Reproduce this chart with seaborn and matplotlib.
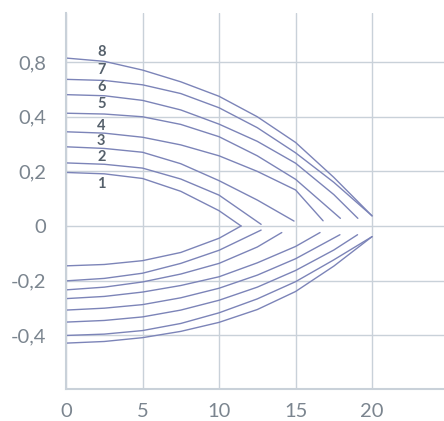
import matplotlib
matplotlib.use("Agg")
import matplotlib.pyplot as plt
import seaborn as sns
import numpy as np
import pandas as pd

# upper branch of each curve (x, y), curves 1..8
upper_x = {
    1: [0, 2.5, 5, 7.5, 10, 11.44],
    2: [0, 2.5, 5, 7.5, 10, 12.75],
    3: [0, 2.5, 5, 7.5, 10, 12.5, 14.9],
    4: [0, 2.5, 5, 7.5, 10, 12.5, 15, 16.8],
    5: [0, 2.5, 5, 7.5, 10, 12.5, 15, 17.93],
    6: [0, 2.5, 5, 7.5, 10, 12.5, 15, 17.5, 19.07],
    7: [0, 2.5, 5, 7.5, 10, 12.5, 15, 17.5, 20],
    8: [0, 2.5, 5, 7.5, 10, 12.5, 15, 17.5, 20],
}
upper_y = {
    1: [0.196, 0.191, 0.174, 0.127, 0.056, 0.000],
    2: [0.231, 0.226, 0.212, 0.172, 0.113, 0.006],
    3: [0.290, 0.284, 0.270, 0.228, 0.166, 0.095, 0.018],
    4: [0.345, 0.340, 0.325, 0.297, 0.257, 0.200, 0.132, 0.019],
    5: [0.413, 0.410, 0.400, 0.372, 0.327, 0.257, 0.171, 0.028],
    6: [0.481, 0.477, 0.460, 0.425, 0.373, 0.310, 0.230, 0.115, 0.028],
    7: [0.537, 0.533, 0.517, 0.485, 0.433, 0.360, 0.268, 0.160, 0.037],
    8: [0.615, 0.603, 0.571, 0.528, 0.475, 0.400, 0.306, 0.178, 0.037],
}
# lower branch
lower_x = {
    1: [0, 2.5, 5, 7.5, 10, 11.44],
    2: [0, 2.5, 5, 7.5, 10, 12.75],
    3: [0, 2.5, 5, 7.5, 10, 12.5, 14.1],
    4: [0, 2.5, 5, 7.5, 10, 12.5, 15, 16.6],
    5: [0, 2.5, 5, 7.5, 10, 12.5, 15, 17.9],
    6: [0, 2.5, 5, 7.5, 10, 12.5, 15, 17.5, 19.05],
    7: [0, 2.5, 5, 7.5, 10, 12.5, 15, 17.5, 20],
    8: [0, 2.5, 5, 7.5, 10, 12.5, 15, 17.5, 20],
}
lower_y = {
    1: [-0.146, -0.141, -0.127, -0.097, -0.045, 0.000],
    2: [-0.201, -0.192, -0.173, -0.137, -0.089, -0.015],
    3: [-0.234, -0.224, -0.205, -0.176, -0.137, -0.077, -0.024],
    4: [-0.266, -0.258, -0.242, -0.218, -0.186, -0.135, -0.075, -0.024],
    5: [-0.308, -0.301, -0.288, -0.263, -0.228, -0.180, -0.120, -0.032],
    6: [-0.352, -0.346, -0.333, -0.308, -0.272, -0.224, -0.163, -0.088, -0.032],
    7: [-0.401, -0.396, -0.383, -0.357, -0.318, -0.267, -0.204, -0.124, -0.039],
    8: [-0.429, -0.423, -0.409, -0.386, -0.353, -0.306, -0.240, -0.147, -0.039],
}
label_pos = {1: 0.154, 2: 0.252, 3: 0.311, 4: 0.366, 5: 0.446, 6: 0.508, 7: 0.570, 8: 0.636}
label_x = 2.3

xticks = [0, 5, 10, 15, 20]
yticks = [-0.4, -0.2, 0, 0.2, 0.4, 0.6]
ytick_labels = ["-0,4", "-0,2", "0", "0,2", "0,4", "0,8"]

line_color = "#7c84b8"
grid_color = "#c9d1d9"
text_color = "#7b858f"

sns.set_style("whitegrid")
plt.rcParams['font.family'] = ['Lato', 'DejaVu Sans']

fig = plt.figure(figsize=(4.44, 4.21), dpi=100)
ax = fig.add_axes([66 / 444, 32 / 421, 1 - 66 / 444, (389 - 13) / 421])

for k in upper_x:
    sns.lineplot(x=upper_x[k], y=upper_y[k], ax=ax, color=line_color, lw=1.0, sort=False)
    sns.lineplot(x=lower_x[k], y=lower_y[k], ax=ax, color=line_color, lw=1.0, sort=False)
    ax.text(label_x, label_pos[k], str(k), fontsize=10.5, fontweight="bold",
            color="#55606b", ha="center", va="center")

ax.set_xlim(0, 24.7)
ax.set_ylim(-0.597, 0.780)
ax.set_xticks(xticks)
ax.set_yticks(yticks)
ax.set_yticklabels(ytick_labels)
ax.grid(True, color=grid_color, lw=1.0)
ax.tick_params(length=0, labelsize=14.5, colors=text_color, labelcolor=text_color)
ax.tick_params(axis="y", pad=14)
ax.tick_params(axis="x", pad=10)
for side in ["top", "right"]:
    ax.spines[side].set_visible(False)
for side in ["left", "bottom"]:
    ax.spines[side].set_color(grid_color)
    ax.spines[side].set_linewidth(1.5)

fig.savefig("out.png", dpi=100)
